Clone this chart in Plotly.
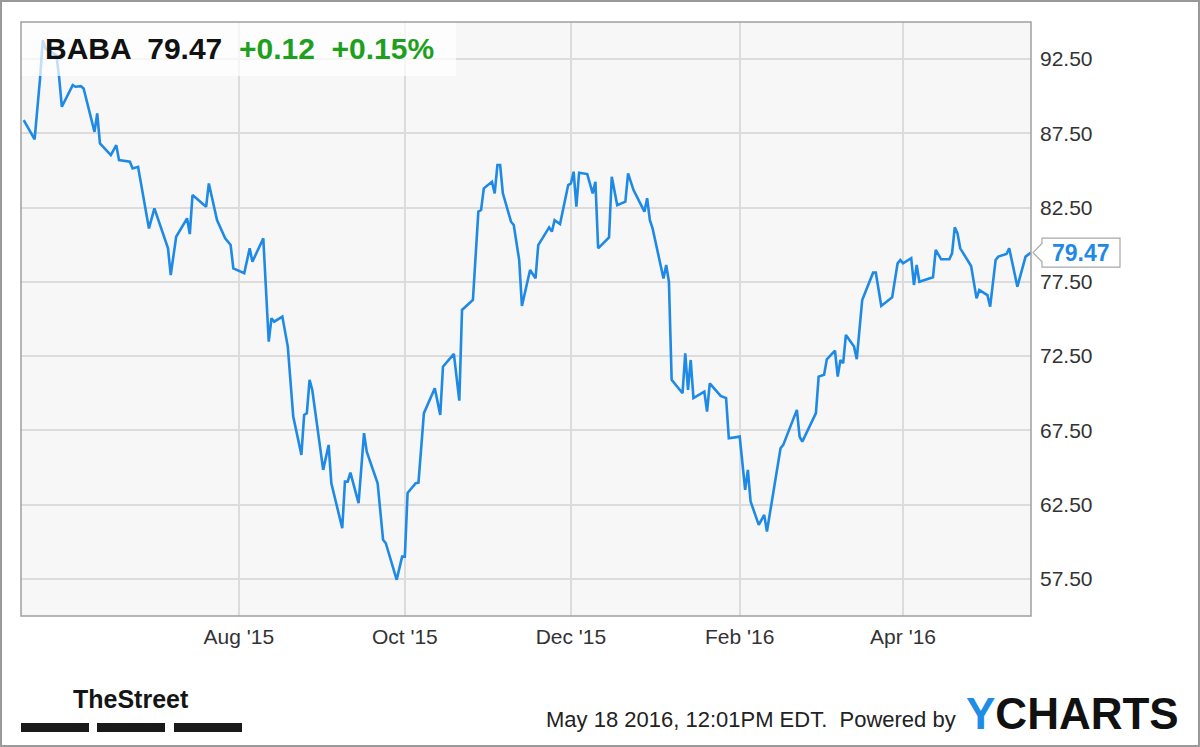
import plotly.graph_objects as go

# ---------------- data ----------------
dates = [
    "2015-05-14", "2015-05-18", "2015-05-20", "2015-05-21", "2015-05-22", "2015-05-26", "2015-05-27", "2015-05-28",
    "2015-06-01", "2015-06-02", "2015-06-04", "2015-06-05", "2015-06-09", "2015-06-10", "2015-06-11", "2015-06-15",
    "2015-06-17", "2015-06-18", "2015-06-22", "2015-06-23", "2015-06-25", "2015-06-29", "2015-07-01", "2015-07-06",
    "2015-07-07", "2015-07-09", "2015-07-13", "2015-07-14", "2015-07-15", "2015-07-20", "2015-07-21", "2015-07-24",
    "2015-07-27", "2015-07-29", "2015-07-30", "2015-08-03", "2015-08-05", "2015-08-06", "2015-08-10", "2015-08-12",
    "2015-08-13", "2015-08-14", "2015-08-17", "2015-08-19", "2015-08-21", "2015-08-24", "2015-08-25", "2015-08-26",
    "2015-08-27", "2015-08-28", "2015-09-01", "2015-09-03", "2015-09-04", "2015-09-08", "2015-09-09", "2015-09-10",
    "2015-09-11", "2015-09-14", "2015-09-16", "2015-09-17", "2015-09-21", "2015-09-23", "2015-09-24", "2015-09-28",
    "2015-09-30", "2015-10-01", "2015-10-02", "2015-10-05", "2015-10-06", "2015-10-07", "2015-10-08", "2015-10-12",
    "2015-10-14", "2015-10-15", "2015-10-19", "2015-10-21", "2015-10-22", "2015-10-26", "2015-10-28", "2015-10-29",
    "2015-10-30", "2015-11-02", "2015-11-03", "2015-11-04", "2015-11-05", "2015-11-06", "2015-11-09", "2015-11-10",
    "2015-11-12", "2015-11-13", "2015-11-16", "2015-11-18", "2015-11-19", "2015-11-23", "2015-11-24", "2015-11-25",
    "2015-11-27", "2015-11-30", "2015-12-01", "2015-12-02", "2015-12-03", "2015-12-04", "2015-12-07", "2015-12-09",
    "2015-12-10", "2015-12-11", "2015-12-15", "2015-12-16", "2015-12-18", "2015-12-21", "2015-12-22", "2015-12-24",
    "2015-12-28", "2015-12-29", "2015-12-30", "2015-12-31", "2016-01-04", "2016-01-05", "2016-01-06", "2016-01-07",
    "2016-01-11", "2016-01-12", "2016-01-13", "2016-01-14", "2016-01-15", "2016-01-19", "2016-01-20", "2016-01-21",
    "2016-01-25", "2016-01-27", "2016-01-28", "2016-02-01", "2016-02-03", "2016-02-04", "2016-02-05", "2016-02-08",
    "2016-02-10", "2016-02-11", "2016-02-16", "2016-02-17", "2016-02-22", "2016-02-23", "2016-02-24", "2016-02-29",
    "2016-03-01", "2016-03-03", "2016-03-04", "2016-03-07", "2016-03-08", "2016-03-09", "2016-03-10", "2016-03-11",
    "2016-03-14", "2016-03-15", "2016-03-16", "2016-03-17", "2016-03-21", "2016-03-22", "2016-03-24", "2016-03-28",
    "2016-03-30", "2016-03-31", "2016-04-01", "2016-04-04", "2016-04-05", "2016-04-06", "2016-04-07", "2016-04-12",
    "2016-04-13", "2016-04-15", "2016-04-18", "2016-04-19", "2016-04-20", "2016-04-21", "2016-04-22", "2016-04-26",
    "2016-04-28", "2016-04-29", "2016-05-02", "2016-05-03", "2016-05-05", "2016-05-06", "2016-05-09", "2016-05-10",
    "2016-05-13", "2016-05-16", "2016-05-18",
]

prices = [
    88.39, 87.10, 91.20, 93.78, 93.20, 92.77, 91.30, 89.29,
    90.75, 90.64, 90.68, 90.53, 87.60, 88.85, 86.83, 86.04,
    86.71, 85.70, 85.59, 85.14, 85.25, 81.10, 82.45, 79.76,
    77.96, 80.54, 81.78, 80.72, 83.35, 82.56, 84.13, 81.66,
    80.43, 79.98, 78.41, 78.08, 79.76, 78.86, 80.43, 73.47,
    75.05, 74.82, 75.16, 73.14, 68.43, 65.85, 68.54, 68.66,
    70.90, 70.22, 64.84, 66.52, 63.94, 60.91, 64.05, 64.05,
    64.66, 62.60, 67.31, 66.07, 63.94, 60.13, 59.90, 57.44,
    59.00, 59.00, 63.28, 63.94, 63.98, 66.64, 68.66, 70.34,
    68.54, 71.79, 72.65, 69.50, 75.61, 76.28, 82.23, 82.34,
    83.80, 84.24, 83.46, 85.37, 85.37, 83.46, 81.55, 81.33,
    78.97, 75.88, 78.30, 77.74, 79.98, 81.17, 80.88, 81.66,
    81.39, 84.02, 84.13, 84.92, 82.56, 84.85, 84.76, 83.46,
    84.24, 79.76, 80.50, 84.58, 82.67, 82.90, 84.80, 83.68,
    82.23, 83.13, 81.66, 81.10, 77.73, 78.64, 77.51, 70.90,
    70.00, 72.69, 70.22, 72.24, 69.67, 70.11, 68.77, 70.67,
    69.82, 69.67, 66.97, 67.08, 63.50, 64.84, 62.71, 61.14,
    61.81, 60.69, 66.30, 66.52, 68.88, 67.08, 66.74, 68.66,
    71.12, 71.24, 72.29, 72.87, 71.12, 72.24, 72.02, 73.93,
    73.14, 72.29, 74.16, 76.28, 78.12, 78.12, 75.88, 76.46,
    78.75, 78.97, 78.75, 79.09, 77.29, 78.64, 77.51, 77.81,
    79.65, 79.02, 79.02, 79.42, 81.17, 80.77, 79.76, 78.57,
    76.39, 76.95, 76.61, 75.83, 78.97, 79.20, 79.38, 79.76,
    77.18, 79.20, 79.47,
]

ticker = "BABA"
last_price = "79.47"
change_abs = "+0.12"
change_pct = "+0.15%"

x_tick_dates = ["2015-08-01", "2015-10-01", "2015-12-01", "2016-02-01", "2016-04-01"]
x_tick_labels = ["Aug '15", "Oct '15", "Dec '15", "Feb '16", "Apr '16"]
y_tick_values = [57.5, 62.5, 67.5, 72.5, 77.5, 82.5, 87.5, 92.5]
y_tick_labels = ["57.50", "62.50", "67.50", "72.50", "77.50", "82.50", "87.50", "92.50"]

timestamp_text = "May 18 2016, 12:01PM EDT.  Powered by"

# ---------------- layout constants ----------------
W, H = 1200, 747
ML, MR, MT, MB = 21, 169, 22, 131
PW = W - ML - MR
PH = H - MT - MB
LINE_COLOR = "#1f8ae6"
FONT = "Liberation Sans, Arial, sans-serif"
Y_RANGE = [55, 95]


def px_x(px):
    return (px - ML) / PW


def px_y(py):
    return 1 - (py - MT) / PH


fig = go.Figure()
fig.add_trace(go.Scatter(
    x=dates, y=prices, mode="lines",
    line=dict(color=LINE_COLOR, width=2.6),
    hoverinfo="skip", showlegend=False,
))

shapes = []
# legend backdrop (semi-transparent white)
shapes.append(dict(type="rect", xref="paper", yref="paper",
                   x0=0, x1=px_x(456), y0=px_y(76), y1=1,
                   fillcolor="rgba(255,255,255,0.72)", line=dict(width=0), layer="above"))
# plot border
shapes.append(dict(type="rect", xref="paper", yref="paper", x0=0, x1=1, y0=0, y1=1,
                   line=dict(color="#a0a0a0", width=1.5), fillcolor="rgba(0,0,0,0)", layer="above"))
# outer image border
shapes.append(dict(type="rect", xref="paper", yref="paper",
                   x0=px_x(1), x1=px_x(W - 1), y0=px_y(H - 1), y1=px_y(1),
                   line=dict(color="#9a9a9a", width=2), fillcolor="rgba(0,0,0,0)", layer="above"))

# last-price flag with pointer
last_val = prices[-1]
dy_box = 0.98
dy_ptr = 0.62
tip = px_x(1033)
bl = px_x(1042)
br = px_x(1120)
path = (f"M {tip},{last_val} L {bl},{last_val + dy_ptr} L {bl},{last_val + dy_box} "
        f"L {br},{last_val + dy_box} L {br},{last_val - dy_box} L {bl},{last_val - dy_box} "
        f"L {bl},{last_val - dy_ptr} Z")
shapes.append(dict(type="path", xref="paper", yref="y", path=path,
                   fillcolor="white", line=dict(color="#a8a8a8", width=1.2), layer="above"))

# TheStreet underline bars
for a, b in [(21, 89), (97, 165), (174, 242)]:
    shapes.append(dict(type="rect", xref="paper", yref="paper",
                       x0=px_x(a), x1=px_x(b), y0=px_y(732), y1=px_y(723),
                       fillcolor="#1a1a1a", line=dict(width=0)))

annotations = [
    dict(xref="paper", yref="paper", x=px_x(43), y=px_y(49), xanchor="left", yanchor="middle",
         showarrow=False,
         text=(f"<b>{ticker}  {last_price}</b>  "
               f"<b><span style='color:#1ea01e'>{change_abs}  {change_pct}</span></b>"),
         font=dict(family=FONT, size=30, color="#111111")),
    dict(xref="paper", yref="y", x=(bl + br) / 2, y=last_val, xanchor="center", yanchor="middle",
         showarrow=False, text=f"<b>{last_price}</b>",
         font=dict(family=FONT, size=23, color=LINE_COLOR)),
    dict(xref="paper", yref="paper", x=px_x(131), y=px_y(699), xanchor="center", yanchor="middle",
         showarrow=False, text="<b>TheStreet</b>",
         font=dict(family=FONT, size=25, color="#151515")),
    dict(xref="paper", yref="paper", x=px_x(958), y=px_y(719), xanchor="right", yanchor="middle",
         showarrow=False, text=timestamp_text,
         font=dict(family=FONT, size=22, color="#222222")),
    dict(xref="paper", yref="paper", x=px_x(964), y=px_y(713), xanchor="left", yanchor="middle",
         showarrow=False,
         text="<b><span style='color:#1e8de6'>Y</span>CHARTS</b>",
         font=dict(family=FONT, size=44, color="#111111")),
]

fig.update_layout(
    width=W, height=H,
    margin=dict(l=ML, r=MR, t=MT, b=MB, pad=0),
    paper_bgcolor="white",
    plot_bgcolor="#f7f7f7",
    showlegend=False,
    shapes=shapes,
    annotations=annotations,
    font=dict(family=FONT, color="#333333"),
    xaxis=dict(
        type="date", range=["2015-05-13", "2016-05-18"],
        tickvals=x_tick_dates, ticktext=x_tick_labels,
        showgrid=True, gridcolor="#dcdcdc", gridwidth=1.5,
        zeroline=False, showline=False, ticks="",
        tickfont=dict(family=FONT, size=21, color="#333333"),
        ticklabelstandoff=6, fixedrange=True,
    ),
    yaxis=dict(
        side="right", range=Y_RANGE,
        tickvals=y_tick_values, ticktext=y_tick_labels,
        showgrid=True, gridcolor="#dcdcdc", gridwidth=1.5,
        zeroline=False, showline=False, ticks="",
        tickfont=dict(family=FONT, size=21, color="#333333"),
        ticklabelstandoff=8, fixedrange=True,
    ),
)

fig.write_html(
    "out.html",
    config={"displayModeBar": False},
    post_script="document.body.style.margin='0';document.body.style.overflow='hidden';",
)
